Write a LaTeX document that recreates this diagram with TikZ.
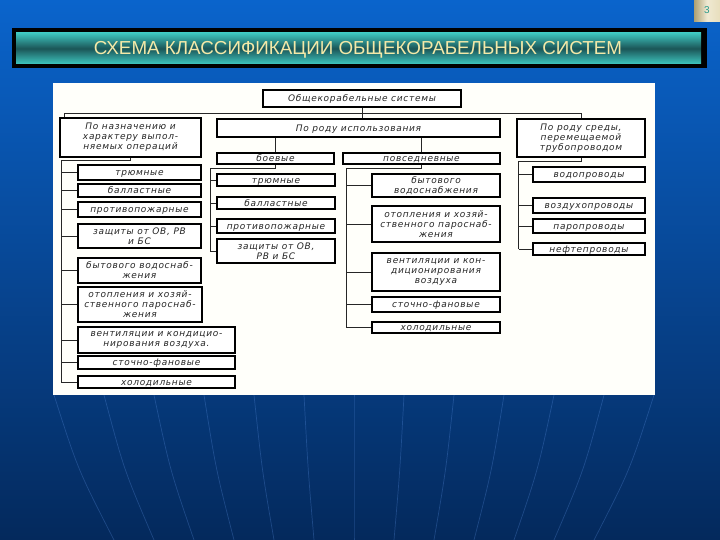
\documentclass[tikz,border=0pt]{standalone}
\usepackage{fontspec}
\setmainfont{Liberation Sans}
\newfontfamily\diagfont[LetterSpace=8]{DejaVu Sans}
\usetikzlibrary{calc}
\definecolor{bgtop}{HTML}{0A64CC}
\definecolor{bgmid}{HTML}{0755B0}
\definecolor{bgbot}{HTML}{04295C}
\definecolor{tealhi}{HTML}{3EC6C0}
\definecolor{tealdk}{HTML}{1B5557}
\definecolor{titletext}{HTML}{F4E9A8}
\definecolor{tanbox}{HTML}{D8C890}
\definecolor{numteal}{HTML}{2A9A8A}
\definecolor{meridian}{HTML}{5A8FE0}
\begin{document}
\begin{tikzpicture}[x=1pt,y=-1pt,
  basebox/.style={draw=black, line width=1.3pt, fill=white, inner sep=0.5pt,
    font=\diagfont\itshape\fontsize{9}{10}\selectfont, text=black!85},
  box/.style={basebox, align=center},
  sbox/.style={basebox, text height=7.3pt, text depth=0.5pt},
  conn/.style={line width=0.9pt, draw=black!85}]
\useasboundingbox (0,0) rectangle (720,540);
% background
\shade[top color=bgtop, middle color=bgmid, bottom color=bgbot] (0,0) rectangle (720,540);
\foreach \i in {-6,...,6}{
  \draw[meridian, opacity=0.3, line width=0.7pt]
    (354+\i*50,395) .. controls (354+\i*46,470) .. (354+\i*40,540);
}
% page number
\shade[left color=tanbox!80!black, right color=tanbox!60!white, middle color=tanbox!40!white] (694,0) rectangle (720,22);
\node[text=numteal, font=\fontsize{10}{12}\selectfont] (pg) at (707,10) {3};
% title bar
\fill[black] (11.5,28) rectangle (707,68);
\shade[top color=tealhi, bottom color=tealhi, middle color=tealdk] (16,33) rectangle (701,64);
\node[text=titletext, font=\fontsize{18.8}{20}\selectfont] (title) at (358,49.5) {СХЕМА КЛАССИФИКАЦИИ ОБЩЕКОРАБЕЛЬНЫХ СИСТЕМ};
% panel
\fill[white!98!yellow] (53,83) rectangle (655,395);

% top level
\node[sbox, minimum width=198, minimum height=17] (top) at (362,98.5) {Общекорабельные системы};
\node[box, minimum width=141, minimum height=39] (lcat) at (130.5,137.5) {По назначению и\\характеру выпол-\\няемых операций};
\node[sbox, minimum width=283, minimum height=18] (mcat) at (358.5,128) {По роду использования};
\node[box, minimum width=128, minimum height=38] (rcat) at (581,138) {По роду среды,\\перемещаемой\\трубопроводом};

% left column
\node[sbox, minimum width=123, minimum height=15] (l1) at (139.5,172.5) {трюмные};
\node[sbox, minimum width=123, minimum height=13] (l2) at (139.5,190.5) {балластные};
\node[sbox, minimum width=123, minimum height=15] (l3) at (139.5,209.5) {противопожарные};
\node[box, minimum width=123, minimum height=24] (l4) at (139.5,236) {защиты от ОВ, РВ\\и БС};
\node[box, minimum width=123, minimum height=25] (l5) at (139.5,270.5) {бытового водоснаб-\\жения};
\node[box, minimum width=124, minimum height=35] (l6) at (140,304.5) {отопления и хозяй-\\ственного пароснаб-\\жения};
\node[box, minimum width=157, minimum height=26] (l7) at (156.5,340) {вентиляции и кондицио-\\нирования воздуха.};
\node[sbox, minimum width=157, minimum height=13] (l8) at (156.5,362.5) {сточно-фановые};
\node[sbox, minimum width=157, minimum height=12] (l9) at (156.5,382) {холодильные};

% middle: combat / everyday
\node[sbox, minimum width=117, minimum height=11] (boe) at (275.5,158.5) {боевые};
\node[sbox, minimum width=157, minimum height=11] (pov) at (421.5,158.5) {повседневные};

\node[sbox, minimum width=118, minimum height=12] (b1) at (276,180) {трюмные};
\node[sbox, minimum width=118, minimum height=12] (b2) at (276,203) {балластные};
\node[sbox, minimum width=118, minimum height=14] (b3) at (276,226) {противопожарные};
\node[box, minimum width=118, minimum height=24] (b4) at (276,251) {защиты от ОВ,\\РВ и БС};

\node[box, minimum width=128, minimum height=23] (p1) at (436,185.5) {бытового\\водоснабжения};
\node[box, minimum width=128, minimum height=36] (p2) at (436,224) {отопления и хозяй-\\ственного пароснаб-\\жения};
\node[box, minimum width=128, minimum height=38] (p3) at (436,272) {вентиляции и кон-\\диционирования\\воздуха};
\node[sbox, minimum width=128, minimum height=15] (p4) at (436,304.5) {сточно-фановые};
\node[sbox, minimum width=128, minimum height=11] (p5) at (436,327.5) {холодильные};

% right column
\node[sbox, minimum width=112, minimum height=15] (r1) at (589,174.5) {водопроводы};
\node[sbox, minimum width=112, minimum height=15] (r2) at (589,205.5) {воздухопроводы};
\node[sbox, minimum width=112, minimum height=14] (r3) at (589,226) {паропроводы};
\node[sbox, minimum width=112, minimum height=12] (r4) at (589,249) {нефтепроводы};

% connectors: top
\coordinate (tj) at ($(top.south)+(0,6)$);
\draw[conn] (top.south) -- (tj);
\draw[conn] ([xshift=5]lcat.north west) |- (tj) -| (rcat.north);
\draw[conn] (tj) -- (tj |- mcat.north);
% left bus
\coordinate (lb) at (61,160);
\draw[conn] (lcat.south) |- (lb) -- (lb |- l9.west);
\foreach \n in {l1,l2,l3,l4,l5,l6,l7,l8,l9}{
  \draw[conn] (lb |- \n.west) -- (\n.west);
}
% middle
\draw[conn] (boe.north) -- (boe.north |- mcat.south);
\draw[conn] (pov.north) -- (pov.north |- mcat.south);
\coordinate (bb) at (210,168);
\draw[conn] (boe.south) |- (bb) -- (bb |- b4.west);
\foreach \n in {b1,b2,b3,b4}{
  \draw[conn] (bb |- \n.west) -- (\n.west);
}
\coordinate (pb) at (346,168);
\draw[conn] (pov.south) |- (pb) -- (pb |- p5.west);
\foreach \n in {p1,p2,p3,p4,p5}{
  \draw[conn] (pb |- \n.west) -- (\n.west);
}
% right
\coordinate (rb) at (518.5,161);
\draw[conn] (rcat.south) |- (rb) -- (rb |- r4.west);
\foreach \n in {r1,r2,r3,r4}{
  \draw[conn] (rb |- \n.west) -- (\n.west);
}
\end{tikzpicture}
\end{document}
